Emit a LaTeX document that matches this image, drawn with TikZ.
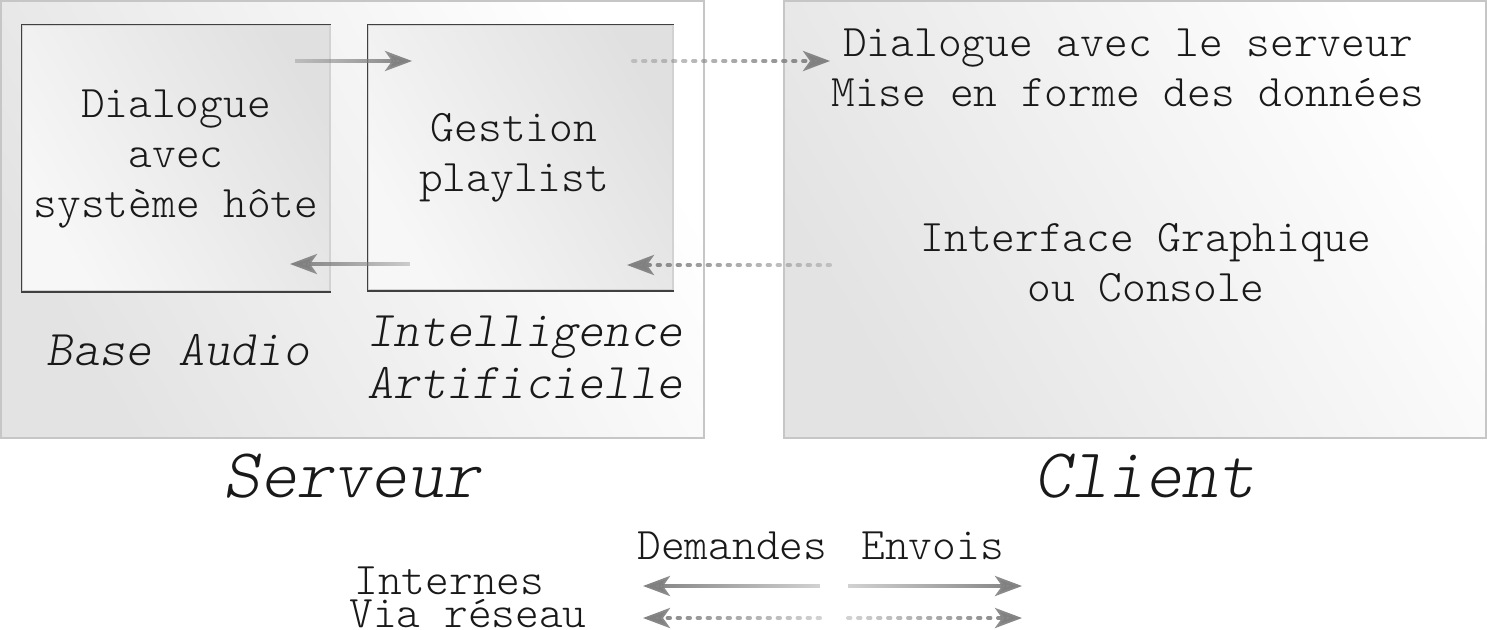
\documentclass[tikz,border=0pt]{standalone}
\usepackage{fontspec}
\setmainfont{Latin Modern Mono Light}
\usetikzlibrary{arrows.meta,fadings}

\tikzfading[name=fade_east, left color=transparent!65, right color=transparent!0]
\tikzfading[name=fade_west, left color=transparent!0, right color=transparent!65]

\tikzstyle{outer_box} = [rectangle, draw=gray!45, line width=1pt, left color=gray!22, right color=white, shading angle=120]
\tikzstyle{inner_box} = [rectangle, draw=gray!35, line width=0.75pt, left color=gray!6, right color=gray!24, shading angle=120]
\tikzstyle{box_edge} = [draw=black!75, line width=0.75pt]
\tikzstyle{box_text} = [font=\fontsize{22.6}{25}\selectfont, align=center, text=black!90]
\tikzstyle{legend_text} = [box_text, inner sep=0pt, text height=13.5pt, text depth=0pt, anchor=base west]
\tikzstyle{role_text} = [font=\fontsize{25}{26}\selectfont\slshape, align=center, text=black!90]
\tikzstyle{side_text} = [font=\fontsize{35}{38}\selectfont\slshape, text=black!90]
\tikzstyle{int_arrow} = [draw=gray, line width=2pt, -{Stealth[length=13.5pt, width=10pt, inset=3.5pt]}, fading transform={yscale=8}]
\tikzstyle{net_arrow} = [int_arrow, dash pattern=on 1.2pt off 3.8pt, line cap=round]

\begin{document}
\begin{tikzpicture}[x=0.5pt, y=-0.5pt]
    \useasboundingbox (0,0) rectangle (1487,629);

    % boxes
    \node (srv) [outer_box, minimum width=351.5pt, minimum height=218.5pt] at (352.5,219.5) {};
    \node (cli) [outer_box, minimum width=351pt, minimum height=218.5pt] at (1135,219.5) {};
    \node (audio) [inner_box, minimum width=154pt, minimum height=133pt] at (176,158) {};
    \node (ia) [inner_box, minimum width=152.5pt, minimum height=132.5pt] at (520.5,157.5) {};
    \draw [box_edge] (audio.north east) -- (audio.north west) -- (audio.south west) -- (audio.south east);
    \draw [box_edge] (ia.north east) -- (ia.north west) -- (ia.south west) -- (ia.south east);

    % texts
    \node (audio_txt) [box_text] at (176,159) {Dialogue\\avec\\système hôte};
    \node (ia_txt) [box_text] at (514,158) {Gestion\\playlist};
    \node (audio_lbl) [role_text] at (178,350) {Base Audio};
    \node (ia_lbl) [role_text] at (525,357) {Intelligence\\Artificielle};
    \node (cli_top) [box_text] at (1128,68) {Dialogue avec le serveur\\Mise en forme des données};
    \node (cli_gui) [box_text] at (1146,263) {Interface Graphique\\ou Console};
    \node (srv_lbl) [side_text] at (352,476) {Serveur};
    \node (cli_lbl) [side_text] at (1145,476) {Client};

    % arrows
    \coordinate (req_a) at (295,61);
    \coordinate (req_b) at (412,61);
    \coordinate (ans_a) at (410,264);
    \coordinate (ans_b) at (290,264);
    \coordinate (send_a) at (633,61);
    \coordinate (send_b) at (830,61);
    \coordinate (get_a) at (830,265);
    \coordinate (get_b) at (627,265);
    \draw [int_arrow, path fading=fade_east] (req_a) -- (req_b);
    \draw [int_arrow, path fading=fade_west] (ans_a) -- (ans_b);
    \draw [net_arrow, path fading=fade_east] (send_a) -- (send_b);
    \draw [net_arrow, path fading=fade_west] (get_a) -- (get_b);

    % legend
    \node (dem_lbl) [legend_text] at (637,559) {Demandes};
    \node (env_lbl) [legend_text] at (861,559) {Envois};
    \node (int_lbl) [legend_text] at (354,594) {Internes};
    \node (net_lbl) [legend_text] at (349,627) {Via réseau};
    \coordinate (li_a) at (820,586);
    \coordinate (li_b) at (643,586);
    \coordinate (ri_a) at (848,586);
    \coordinate (ri_b) at (1022,586);
    \coordinate (ln_a) at (820,618);
    \coordinate (ln_b) at (643,618);
    \coordinate (rn_a) at (848,618);
    \coordinate (rn_b) at (1022,618);
    \draw [int_arrow, path fading=fade_west] (li_a) -- (li_b);
    \draw [int_arrow, path fading=fade_east] (ri_a) -- (ri_b);
    \draw [net_arrow, path fading=fade_west] (ln_a) -- (ln_b);
    \draw [net_arrow, path fading=fade_east] (rn_a) -- (rn_b);
\end{tikzpicture}
\end{document}
